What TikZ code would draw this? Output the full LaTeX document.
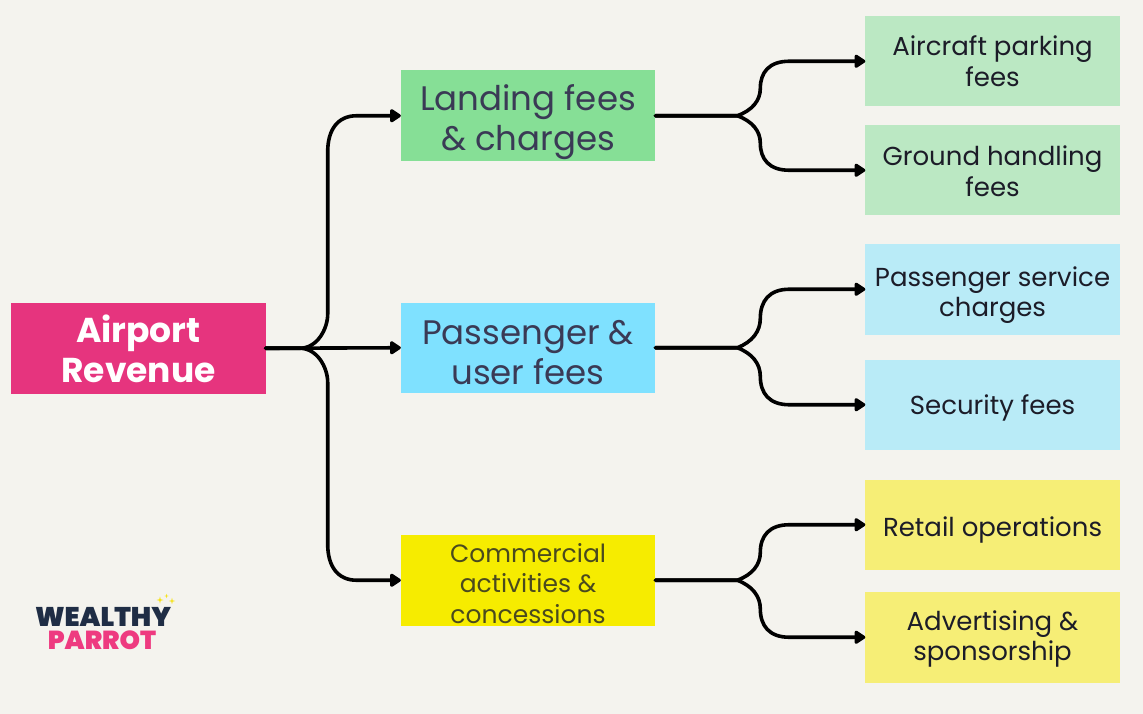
\documentclass[tikz,border=0pt]{standalone}
\usepackage{fontspec}
\setmainfont{Poppins}
\newfontfamily\logofont{Poppins Black}
\usetikzlibrary{calc,arrows.meta}
\definecolor{bgc}{HTML}{F4F3EE}
\definecolor{rootc}{HTML}{E6347E}
\definecolor{greenA}{HTML}{86DF96}
\definecolor{blueA}{HTML}{7FE1FF}
\definecolor{yellowA}{HTML}{F6EC00}
\definecolor{greenB}{HTML}{BBE8C3}
\definecolor{blueB}{HTML}{B9EBF7}
\definecolor{yellowB}{HTML}{F6EE76}
\definecolor{inkA}{HTML}{3A3A55}
\definecolor{inkB}{HTML}{1C1C28}
\definecolor{inkC}{HTML}{4A4A1E}
\definecolor{navy}{HTML}{1F2D45}
\definecolor{pink}{HTML}{EE3A80}
\definecolor{star}{HTML}{F6E21C}
\newcommand\fsz[2]{\fontsize{#1}{#2}\selectfont}
\newcommand\lines[2]{\raisebox{-#1pt}[0pt][0pt]{\begin{tabular}[c]{@{}c@{}}#2\end{tabular}}}
\tikzset{
  box/.style={minimum width=254.5pt,inner sep=0pt,outer sep=0pt,anchor=north west},
  rootbox/.style={box,fill=rootc,minimum height=90.5pt,text=white,font=\fsz{34.5}{40}\bfseries},
  midbox/.style={box,minimum height=90.5pt,text=inkA,font=\fsz{34}{40}},
  leafbox/.style={box,minimum height=90.5pt,text=inkB,font=\fsz{26}{30.5}},
  conn/.style={line width=3.6pt,draw=black,line cap=round,line join=round},
  tip/.style={-{Triangle[length=12pt,width=15pt,round]}}
}
\newcommand\fork[2]{%
  \draw[conn,tip] let \p1=(#1.east),\p2=(#2.west) in
    (\p1) -- (\x1+82pt,\y1)
    .. controls (\x1+97pt,{\y1+0.1*(\y2-\y1)}) and (\x1+105pt,{\y1+0.28*(\y2-\y1)}) .. (\x1+105pt,{\y1+0.5*(\y2-\y1)})
    .. controls (\x1+105pt,{\y1+0.8*(\y2-\y1)}) and (\x1+114pt,\y2) .. (\x1+134pt,\y2)
    -- (\p2);}
\newcommand\trunk[2]{%
  \draw[conn,tip] let \p1=(#1.east),\p2=(#2.west) in
    (\p1) -- (\x1+34pt,\y1)
    .. controls (\x1+52pt,\y1) and (\x1+62pt,{\y1+(\y2>\y1 ? 20pt : -20pt)}) .. (\x1+62pt,{\y1+(\y2>\y1 ? 34pt : -34pt)})
    -- (\x1+62pt,{\y2+(\y2>\y1 ? -36pt : 36pt)})
    .. controls (\x1+62pt,{\y2+(\y2>\y1 ? -14pt : 14pt)}) and (\x1+72pt,\y2) .. (\x1+91pt,\y2)
    -- (\p2);}
\newcommand\sparkle[3]{%
  \fill[star] (#1-#3,#2) -- (#1-#3*.22,#2-#3*.22) -- (#1,#2-#3) -- (#1+#3*.22,#2-#3*.22) -- (#1+#3,#2)
    -- (#1+#3*.22,#2+#3*.22) -- (#1,#2+#3) -- (#1-#3*.22,#2+#3*.22) -- cycle;}
\begin{document}
\begin{tikzpicture}[x=1pt,y=-1pt]
\useasboundingbox[fill=bgc] (0,0) rectangle (1143,714);
\node[rootbox] (root) at (11.2,303) {\lines{12.5}{Airport\\Revenue}};
\node[midbox,fill=greenA] (m1) at (400.8,70.5) {\lines{12.5}{Landing fees\\\& charges}};
\node[midbox,fill=blueA] (m2) at (400.8,302.5) {\lines{14.5}{Passenger \&\\user fees}};
\node[midbox,fill=yellowA,text=inkC,font=\fsz{25}{30.5}] (m3) at (400.8,535) {\lines{12.7}{Commercial\\activities \&\\concessions}};
\node[leafbox,fill=greenB] (a1) at (865.3,16) {\lines{10}{Aircraft parking\\fees}};
\node[leafbox,fill=greenB] (a2) at (865.3,125) {\lines{11}{Ground handling\\fees}};
\node[leafbox,fill=blueB] (b1) at (865.3,244) {\lines{12.5}{Passenger service\\charges}};
\node[leafbox,fill=blueB] (b2) at (865.3,359.5) {\lines{9.5}{Security fees}};
\node[leafbox,fill=yellowB] (c1) at (865.3,479.5) {\lines{11.5}{Retail operations}};
\node[leafbox,fill=yellowB] (c2) at (865.3,592) {\lines{8.5}{Advertising \&\\sponsorship}};
\trunk{root}{m1}
\trunk{root}{m3}
\draw[conn,tip] (root.east) -- (m2.west);
\fork{m1}{a1}
\fork{m1}{a2}
\fork{m2}{b1}
\fork{m2}{b2}
\fork{m3}{c1}
\fork{m3}{c2}
\node[inner sep=0pt,text=navy,font=\logofont\fsz{27}{28}] (logo1) at (103,617) {\raisebox{0pt}[19pt][0pt]{WEALTHY}};
\node[inner sep=0pt,text=pink,font=\logofont\fsz{26}{28}] (logo2) at (102,640.5) {\raisebox{0pt}[18pt][0pt]{PARROT}};
\sparkle{160}{600}{3.5}
\sparkle{166.5}{596}{2.2}
\sparkle{172}{601}{3.2}
\end{tikzpicture}
\end{document}
